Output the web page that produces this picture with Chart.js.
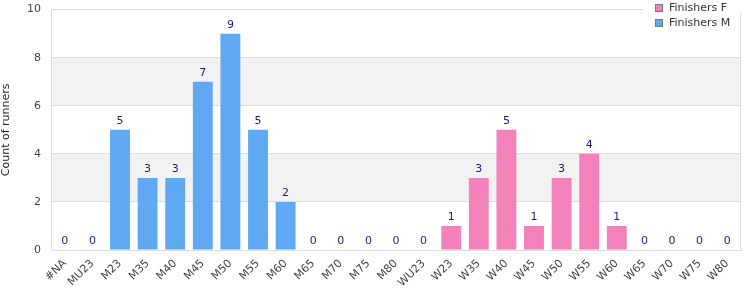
<!DOCTYPE html>
<html>
<head>
<meta charset="utf-8">
<script src="https://cdn.jsdelivr.net/npm/chart.js@4/dist/chart.umd.min.js"></script>
<style>
  html, body { margin: 0; padding: 0; background: #fff; }
  #wrap { width: 750px; height: 300px; }
</style>
</head>
<body>
<div id="wrap"><canvas id="myChart"></canvas></div>
<script>
var categories = ['#NA', 'MU23', 'M23', 'M35', 'M40', 'M45', 'M50', 'M55', 'M60', 'M65', 'M70', 'M75', 'M80',
    'WU23', 'W23', 'W35', 'W40', 'W45', 'W50', 'W55', 'W60', 'W65', 'W70', 'W75', 'W80'];
var finishersF = [0, 0, 0, 0, 0, 0, 0, 0, 0, 0, 0, 0, 0, 0, 1, 3, 5, 1, 3, 4, 1, 0, 0, 0, 0];
var finishersM = [0, 0, 5, 3, 3, 7, 9, 5, 2, 0, 0, 0, 0, 0, 0, 0, 0, 0, 0, 0, 0, 0, 0, 0, 0];
var yTicks = [0, 2, 4, 6, 8, 10];

var pink = '#f282b9';
var blue = '#60a9f2';

// grey bands 2-4 and 6-8
var bandPlugin = {
    id: 'bands',
    beforeDraw: function (chart) {
        var ctx = chart.ctx, area = chart.chartArea, y = chart.scales.y;
        ctx.save();
        ctx.fillStyle = '#f2f2f2';
        for (var i = 1; i < yTicks.length - 1; i += 2) {
            var top = y.getPixelForValue(yTicks[i + 1]);
            var bot = y.getPixelForValue(yTicks[i]);
            ctx.fillRect(area.left, top, area.right - area.left, bot - top);
        }
        ctx.restore();
    }
};

// total above each stack + legend in top right corner
var labelPlugin = {
    id: 'labels',
    afterDraw: function (chart) {
        var ctx = chart.ctx, x = chart.scales.x, y = chart.scales.y, area = chart.chartArea;
        ctx.save();
        ctx.strokeStyle = '#ddd';
        ctx.lineWidth = 1;
        ctx.beginPath();
        ctx.moveTo(Math.round(area.right) - 0.5, area.top);
        ctx.lineTo(Math.round(area.right) - 0.5, area.bottom);
        ctx.stroke();

        ctx.font = '11px "DejaVu Sans"';
        ctx.fillStyle = '#1a1a8a';
        ctx.textAlign = 'center';
        ctx.textBaseline = 'bottom';
        categories.forEach(function (c, i) {
            var total = finishersF[i] + finishersM[i];
            ctx.fillText(String(total), x.getPixelForValue(i), y.getPixelForValue(total) - 3);
        });

        // legend
        ctx.fillStyle = '#fff';
        ctx.fillRect(643, 0, 107, 13);
        var items = [['Finishers F', pink], ['Finishers M', blue]];
        ctx.textAlign = 'left';
        ctx.textBaseline = 'middle';
        items.forEach(function (it, k) {
            var yy = 8 + k * 15;
            ctx.fillStyle = it[1];
            ctx.fillRect(655, yy - 4, 8, 8);
            ctx.strokeStyle = '#777';
            ctx.lineWidth = 1;
            ctx.strokeRect(655.5, yy - 3.5, 7, 7);
            ctx.fillStyle = '#333';
            ctx.fillText(it[0], 669, yy);
        });
        ctx.restore();
    }
};

var ctx = document.getElementById('myChart').getContext('2d');

var chart = new Chart(ctx, {
    type: 'bar',
    data: {
        labels: categories,
        datasets: [{
            label: 'Finishers F',
            backgroundColor: pink,
            data: finishersF
        }, {
            label: 'Finishers M',
            backgroundColor: blue,
            data: finishersM
        }]
    },
    options: {
        responsive: true,
        maintainAspectRatio: false,
        animation: false,
        layout: { padding: { top: 5, right: 9, left: 0, bottom: 0 } },
        datasets: { bar: { barPercentage: 0.72, categoryPercentage: 1 } },
        plugins: {
            legend: { display: false },
            tooltip: { enabled: false }
        },
        scales: {
            x: {
                stacked: true,
                afterFit: function (s) { s.height = 50; },
                grid: { display: false, drawTicks: false },
                border: { color: '#ddd' },
                ticks: {
                    color: '#444',
                    font: { family: 'DejaVu Sans', size: 11 },
                    maxRotation: 45,
                    minRotation: 45,
                    autoSkip: false,
                    padding: 7
                }
            },
            y: {
                stacked: true,
                min: 0,
                max: 10,
                afterFit: function (s) { s.width = 51; },
                grid: { color: '#ddd', drawTicks: true, tickLength: 7, tickColor: 'rgba(0,0,0,0)' },
                border: { color: '#ddd' },
                ticks: {
                    stepSize: 2,
                    color: '#444',
                    font: { family: 'DejaVu Sans', size: 11 },
                    padding: 3
                },
                title: {
                    display: true,
                    text: 'Count of runners',
                    color: '#222',
                    font: { family: 'DejaVu Sans', size: 11 },
                    padding: { top: 0, bottom: 8 }
                }
            }
        }
    },
    plugins: [bandPlugin, labelPlugin]
});
</script>
</body>
</html>
